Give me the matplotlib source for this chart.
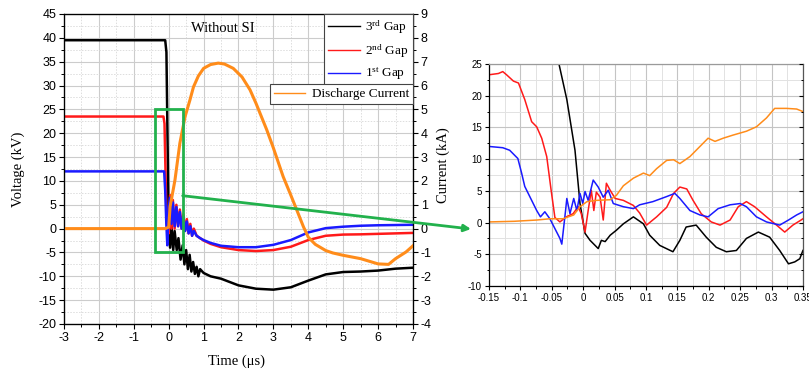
import matplotlib
matplotlib.use("Agg")
import matplotlib.pyplot as plt
from matplotlib.patches import Rectangle
from matplotlib.ticker import MultipleLocator
from matplotlib.font_manager import FontProperties

plt.rcParams['axes.unicode_minus'] = False
plt.rcParams['font.family'] = ['Liberation Sans', 'DejaVu Sans']
plt.rcParams['mathtext.fontset'] = 'custom'
plt.rcParams['mathtext.rm'] = 'Liberation Serif'
plt.rcParams['mathtext.it'] = 'Liberation Serif:italic'

# ---------------- main chart data (time in us, voltage in kV, current in kA)
t_black = [-3, -0.1, -0.065, 0.0, 0.04, 0.08, 0.13, 0.17, 0.23, 0.28, 0.34, 0.4, 0.45, 0.5, 0.55,
           0.6, 0.65, 0.7, 0.75, 0.8, 0.85, 0.9, 1.0, 1.2, 1.5, 2.0, 2.5, 3.0, 3.5, 4.0, 4.5, 5.0,
           5.5, 6.0, 6.5, 7.0]
v_black = [39.5, 39.5, 37, 0, -4, 0.5, -4.5, -0.5, -4.5, -2, -6.5, -3.5, -7.5, -4.5, -8.5,
           -5.5, -9, -7, -9.5, -8, -10, -8.5, -9.3, -10, -10.5, -11.9, -12.6, -12.8, -12.3, -10.9,
           -9.6, -9.1, -9.0, -8.8, -8.4, -8.2]

t_red = [-3, -0.15, -0.12, -0.06, 0.0, 0.04, 0.08, 0.12, 0.17, 0.22, 0.27, 0.32, 0.37, 0.42, 0.47,
         0.52, 0.57, 0.62, 0.67, 0.72, 0.8, 0.9, 1.0, 1.2, 1.5, 2.0, 2.5, 3.0, 3.5, 4.0, 4.5, 5.0,
         5.5, 6.0, 6.5, 7.0]
v_red = [23.5, 23.5, 22, 1, -1, 7, 0, 6, 0, 5, 0.5, 4, 0, 3, -0.5,
         2, -1, 1, -1.5, 0, -1.5, -2, -2.5, -3.2, -3.9, -4.5, -4.7, -4.5, -3.8, -2.4, -1.5, -1.25,
         -1.2, -1.1, -1.0, -0.9]

t_blue = [-3, -0.13, -0.1, -0.07, -0.04, 0.0, 0.04, 0.08, 0.12, 0.17, 0.22, 0.27, 0.32, 0.37,
          0.42, 0.47, 0.52, 0.57, 0.62, 0.67, 0.72, 0.8, 0.9, 1.0, 1.2, 1.5, 2.0, 2.5, 3.0, 3.5,
          4.0, 4.5, 5.0, 5.5, 6.0, 6.5, 7.0]
v_blue = [12, 12, 8, 1.5, -3.5, 4.5, 6.5, 1, 5.5, 0.5, 4.5, 0.5, 3.5, 0,
          2.5, -0.5, 1.5, -1, 0.5, -1.5, -0.5, -1.5, -2, -2.4, -3.0, -3.6, -3.9, -3.9, -3.4, -2.4,
          -0.8, 0.1, 0.4, 0.6, 0.7, 0.75, 0.8]

t_cur = [-3, -0.1, 0.0, 0.04, 0.18, 0.32, 0.47, 0.61, 0.71, 0.85, 1.0, 1.2, 1.42, 1.6, 1.85,
         2.1, 2.33, 2.5, 2.81, 3.0, 3.28, 3.5, 3.67, 3.86, 4.0, 4.2, 4.5, 4.7, 5.0, 5.5, 6.0,
         6.3, 6.5, 6.8, 7.0]
i_cur = [0, 0, 0.06, 0.92, 2.04, 3.58, 4.7, 5.4, 5.94, 6.4, 6.72, 6.88, 6.94, 6.9, 6.72,
         6.36, 5.82, 5.26, 4.14, 3.38, 2.18, 1.4, 0.78, 0.08, -0.36, -0.66, -0.92, -1.02, -1.12,
         -1.26, -1.48, -1.5, -1.26, -0.98, -0.72]

# ---------------- inset data (zoom on -0.15 .. 0.35 us, kV scale)
ti_black = [-0.15, -0.066, -0.0385, -0.026, -0.013, -0.005, 0.003, 0.011, 0.024, 0.029, 0.035,
            0.043, 0.053, 0.064, 0.080, 0.096, 0.106, 0.122, 0.143, 0.154, 0.164, 0.180, 0.196,
            0.212, 0.228, 0.244, 0.260, 0.279, 0.297, 0.313, 0.327, 0.337, 0.345, 0.35]
vi_black = [39.5, 39.5, 25, 19.4, 11.4, 3.0, -1.7, -2.8, -4.1, -2.8, -3.0,
            -2.0, -1.2, -0.2, 0.9, -0.2, -2.0, -3.6, -4.6, -2.8, -0.7, -0.4, -2.3,
            -3.9, -4.6, -4.4, -2.5, -1.5, -2.3, -4.4, -6.5, -6.2, -5.7, -4.4]

ti_red = [-0.15, -0.135, -0.128, -0.122, -0.111, -0.103, -0.093, -0.082, -0.074, -0.066, -0.058,
          -0.051, -0.045, -0.037, -0.027, -0.016, -0.008, -0.003, 0.003, 0.008, 0.013, 0.017,
          0.021, 0.027, 0.032, 0.037, 0.043, 0.051, 0.064, 0.080, 0.090, 0.101, 0.117, 0.133,
          0.144, 0.154, 0.165, 0.175, 0.188, 0.204, 0.218, 0.234, 0.247, 0.260, 0.273, 0.292,
          0.308, 0.321, 0.334, 0.347, 0.35]
vi_red = [23.3, 23.5, 23.8, 23.3, 22.3, 22.0, 19.4, 15.9, 15.1, 13.3, 10.4,
          5.1, 0.8, 0.1, 0.9, 1.4, 2.5, 1.4, -1.5, 1.9, 5.1, 1.9,
          4.8, 4.0, 0.4, 6.2, 5.1, 3.8, 3.5, 2.7, 1.5, -0.4, 0.9, 2.4,
          4.6, 5.6, 5.3, 3.5, 1.4, 0.1, -0.4, 0.4, 2.5, 3.3, 2.5, 0.9,
          -0.4, -1.5, -0.4, 0.4, 0.6]

ti_blue = [-0.15, -0.128, -0.117, -0.104, -0.098, -0.093, -0.085, -0.074, -0.068, -0.061,
           -0.053, -0.045, -0.037, -0.034, -0.028, -0.026, -0.021, -0.015, -0.010, -0.005,
           -0.0006, 0.003, 0.008, 0.016, 0.024, 0.032, 0.040, 0.048, 0.064, 0.080, 0.090,
           0.111, 0.133, 0.146, 0.154, 0.170, 0.186, 0.199, 0.215, 0.234, 0.250, 0.260, 0.276,
           0.292, 0.313, 0.327, 0.340, 0.350]
vi_blue = [12.0, 11.8, 11.4, 10.1, 7.8, 5.7, 4.1, 1.9, 0.9, 1.7,
           0.6, -0.95, -2.5, -3.4, 1.9, 3.8, 1.4, 3.8, 1.9, 4.6,
           3.0, 4.9, 3.5, 6.7, 5.6, 4.0, 5.1, 3.0, 2.5, 2.2, 2.8,
           3.3, 4.1, 4.6, 3.8, 1.9, 1.2, 0.9, 2.2, 2.8, 3.0, 2.5, 0.9,
           0.1, -0.4, 0.4, 1.2, 1.7]

ti_cur = [-0.15, -0.11, -0.074, -0.053, -0.032, -0.015, -0.005, 0.006, 0.021, 0.043, 0.053,
          0.064, 0.080, 0.096, 0.106, 0.117, 0.133, 0.144, 0.154, 0.170, 0.186, 0.199, 0.210,
          0.223, 0.239, 0.260, 0.276, 0.292, 0.305, 0.324, 0.340, 0.350]
vi_cur = [0.1, 0.2, 0.4, 0.6, 0.6, 1.2, 2.5, 3.3, 3.5, 3.6, 4.3,
          5.8, 7.0, 7.8, 7.4, 8.5, 9.8, 9.9, 9.3, 10.4, 12.0, 13.3, 12.8,
          13.3, 13.8, 14.4, 15.1, 16.5, 18.0, 18.0, 17.9, 17.5]

labels_gap = ['3$^{\\rm rd}$ Gap', '2$^{\\rm nd}$ Gap', '1$^{\\rm st}$ Gap']
label_cur = 'Discharge Current'
x_ticks_main = [-3, -2, -1, 0, 1, 2, 3, 4, 5, 6, 7]
y_ticks_volt = [-20, -15, -10, -5, 0, 5, 10, 15, 20, 25, 30, 35, 40, 45]
y_ticks_cur = [-4, -3, -2, -1, 0, 1, 2, 3, 4, 5, 6, 7, 8, 9]
x_ticks_inset = [-0.15, -0.1, -0.05, 0, 0.05, 0.1, 0.15, 0.2, 0.25, 0.3, 0.35]
x_ticklabels_inset = ['-0.15', '-0.1', '-0.05', '0', '0.05', '0.1', '0.15', '0.2', '0.25', '0.3', '0.35']
y_ticks_inset = [-10, -5, 0, 5, 10, 15, 20, 25]

C_BLACK, C_RED, C_BLUE, C_ORANGE, C_GREEN = '#000000', '#ff1a1a', '#1a1aff', '#ff8c1a', '#22b14c'

serif = 'Liberation Serif'

fig = plt.figure(figsize=(8.09, 3.74), dpi=100)

# ---------------- main axes
ax = fig.add_axes([0.0791, 0.1337, 0.4314, 0.8289])
ax.set_xlim(-3, 7)
ax.set_ylim(-20, 45)
ax.set_xticks(x_ticks_main)
ax.set_yticks(y_ticks_volt)
ax.xaxis.set_minor_locator(MultipleLocator(0.5))
ax.yaxis.set_minor_locator(MultipleLocator(2.5))
ax.grid(which='major', color='#cccccc', lw=0.8)
ax.grid(which='minor', color='#dddddd', lw=0.7, ls=(0, (1.5, 1.5)))
ax.set_axisbelow(True)
ax.tick_params(which='major', direction='out', length=3.5, width=0.8, labelsize=9, pad=2)
ax.tick_params(which='minor', direction='out', length=2, width=0.7)
for s in ax.spines.values():
    s.set_linewidth(0.9)

l1, = ax.plot(t_black, v_black, color=C_BLACK, lw=1.8)
l2, = ax.plot(t_red, v_red, color=C_RED, lw=1.8)
l3, = ax.plot(t_blue, v_blue, color=C_BLUE, lw=1.8)

ax2 = ax.twinx()
ax2.set_ylim(-4, 9)
ax2.set_yticks(y_ticks_cur)
ax2.yaxis.set_minor_locator(MultipleLocator(0.5))
ax2.tick_params(which='major', direction='out', length=3.5, width=0.8, labelsize=9, pad=2)
ax2.tick_params(which='minor', direction='out', length=2, width=0.7)
l4, = ax2.plot(t_cur, i_cur, color=C_ORANGE, lw=2.2)

prop = FontProperties(family=serif, size=9.5)
leg1 = ax2.legend([l1, l2, l3], labels_gap, loc='upper right', bbox_to_anchor=(1, 1),
                  bbox_transform=ax.transAxes, prop=prop, fancybox=False, edgecolor='#444444',
                  framealpha=1, borderaxespad=0, borderpad=0.35, labelspacing=0.45,
                  handlelength=2.4, handletextpad=0.4)
leg1.get_frame().set_linewidth(0.8)
for lh in leg1.get_lines():
    lh.set_linewidth(1.0)
ax2.add_artist(leg1)
leg2 = ax2.legend([l4], [label_cur], loc='upper right', bbox_to_anchor=(1, 0.774),
                  bbox_transform=ax.transAxes, prop=prop, fancybox=False, edgecolor='#444444',
                  framealpha=1, borderaxespad=0, borderpad=0.3, handlelength=2.4,
                  handletextpad=0.5)
leg2.get_frame().set_linewidth(0.8)
for lh in leg2.get_lines():
    lh.set_linewidth(1.0)

ax.text(0.455, 0.952, 'Without SI', transform=ax.transAxes, family=serif, fontsize=10.5,
        ha='center', va='center')

fig.text(18 / 809, 1 - 169 / 374, 'Voltage (kV)', rotation=90, family=serif, fontsize=10.5,
         ha='center', va='center')
fig.text(443 / 809, 1 - 165 / 374, 'Current (kA)', rotation=90, family=serif, fontsize=10.5,
         ha='center', va='center')
fig.text(237 / 809, 1 - 361 / 374, 'Time (\u03bcs)', family=serif, fontsize=10.5,
         ha='center', va='center')

# green zoom box and arrow
ax2.add_patch(Rectangle((-0.4, -5), 0.8, 30, transform=ax.transData, fill=False,
                        ec=C_GREEN, lw=2, zorder=6))
ax2.annotate('', xy=(471, 374 - 229), xycoords='figure pixels', xytext=(0.4, 6.9),
             textcoords=ax.transData, annotation_clip=False, zorder=7,
             arrowprops=dict(arrowstyle='-|>', color=C_GREEN, lw=2, mutation_scale=10,
                             shrinkA=0, shrinkB=0))

# ---------------- inset axes
axi = fig.add_axes([0.6044, 0.2353, 0.3881, 0.5936])
axi.set_xlim(-0.15, 0.35)
axi.set_ylim(-10, 25)
axi.set_xticks(x_ticks_inset)
axi.set_xticklabels(x_ticklabels_inset)
axi.set_yticks(y_ticks_inset)
axi.xaxis.set_minor_locator(MultipleLocator(0.025))
axi.yaxis.set_minor_locator(MultipleLocator(2.5))
axi.grid(which='major', color='#c4c4c4', lw=0.8)
axi.grid(which='minor', color='#e2e2e2', lw=0.7)
axi.set_axisbelow(True)
axi.tick_params(which='major', direction='out', length=3, width=0.8, labelsize=7, pad=2)
axi.tick_params(which='minor', direction='out', length=1.8, width=0.7)
axi.spines['top'].set_color('#9a9a9a')
axi.spines['right'].set_color('#555555')
for s in axi.spines.values():
    s.set_linewidth(0.9)
axi.plot(ti_black, vi_black, color=C_BLACK, lw=1.1)
axi.plot(ti_red, vi_red, color=C_RED, lw=1.1)
axi.plot(ti_blue, vi_blue, color=C_BLUE, lw=1.1)
axi.plot(ti_cur, vi_cur, color=C_ORANGE, lw=1.1)

axr = axi.twinx()
axr.set_ylim(-10, 25)
axr.set_yticks(y_ticks_inset)
axr.yaxis.set_minor_locator(MultipleLocator(2.5))
axr.tick_params(which='major', direction='in', length=3, width=0.8, labelright=False)
axr.tick_params(which='minor', direction='in', length=1.8, width=0.7)
for s in axr.spines.values():
    s.set_visible(False)

fig.savefig('out.png', dpi=100, facecolor='white')
